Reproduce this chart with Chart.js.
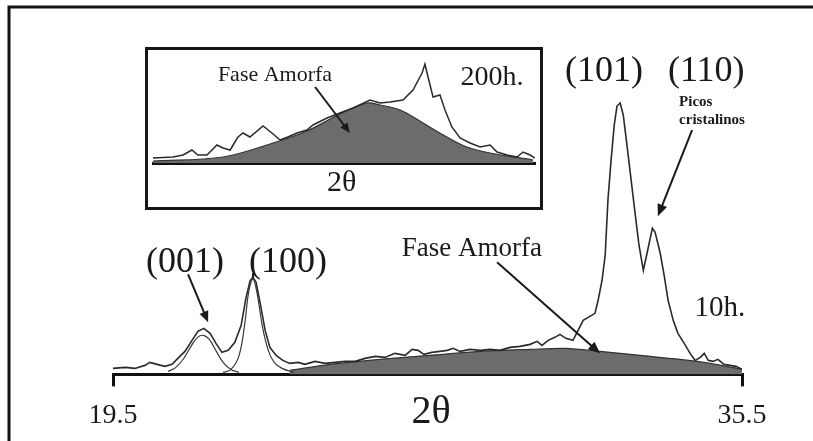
<!DOCTYPE html>
<html>
<head>
<meta charset="utf-8">
<script src="https://cdn.jsdelivr.net/npm/chart.js@4/dist/chart.umd.min.js"></script>
<style>
  body { margin: 0; background: #fff; overflow: hidden; }
  #wrap { position: relative; width: 813px; height: 441px; }
  #inset {
    position: absolute; left: 145px; top: 47px;
    width: 392px; height: 157px;
    border: 3px solid #161616; background: #fff;
  }
</style>
</head>
<body>
<div id="wrap">
  <canvas id="mainChart" width="813" height="441"></canvas>
  <div id="inset"><canvas id="insetChart" width="392" height="157"></canvas></div>
</div>
<script>
// 10h. pattern (2theta, a.u.)
const mainTheta = [19.5, 19.81, 20.06, 20.31, 20.44, 20.62, 20.82, 21.0, 21.15, 21.33,
    21.51, 21.66, 21.81, 21.97, 22.12, 22.27, 22.43, 22.6, 22.76, 22.88,
    22.99, 23.06, 23.14, 23.24, 23.37, 23.49, 23.65, 23.82, 24.0, 24.21,
    24.38, 24.64, 24.89, 25.15, 25.4, 25.66, 25.91, 26.17, 26.42, 26.67,
    26.93, 27.11, 27.26, 27.41, 27.61, 27.82, 28.0, 28.15, 28.33, 28.58,
    28.84, 29.09, 29.34, 29.6, 29.85, 30.11, 30.29, 30.41, 30.57, 30.74,
    30.87, 31.02, 31.2, 31.33, 31.46, 31.63, 31.76, 31.84, 31.94, 32.02,
    32.09, 32.17, 32.25, 32.32, 32.4, 32.48, 32.58, 32.68, 32.78, 32.88,
    32.99, 33.09, 33.22, 33.29, 33.42, 33.52, 33.62, 33.75, 33.87, 34.03,
    34.18, 34.31, 34.44, 34.54, 34.64, 34.76, 34.89, 35.04, 35.2, 35.35, 35.5];
const mainCounts = [6, 7, 6, 9, 12, 10, 8, 10, 16, 23,
    34, 43, 46, 41, 31, 22, 24, 32, 49, 76,
    94, 97, 92, 72, 44, 27, 19, 14, 11, 12,
    10, 13, 11, 12, 13, 13, 16, 18, 17, 21,
    19, 25, 24, 20, 22, 23, 24, 26, 23, 25,
    24, 25, 24, 27, 28, 30, 33, 29, 34, 37,
    40, 36, 34, 44, 54, 58, 61, 74, 94, 119,
    174, 214, 249, 268, 271, 259, 227, 194, 161, 129,
    104, 122, 146, 142, 121, 99, 74, 54, 41, 31,
    21, 14, 17, 21, 14, 13, 15, 10, 9, 8, 5];

// amorphous halo under the 10h. pattern
const amorphTheta = [24.0, 25.02, 26.29, 27.56, 28.84, 30.11, 31.0, 31.89, 32.91, 33.92, 34.69, 35.5];
const amorphCounts = [4, 10, 15, 19, 23, 25, 26, 23, 19, 15, 11, 5];

// fitted components of (001) and (100)
const fit001Theta = [20.9, 21.1, 21.3, 21.5, 21.65, 21.8, 21.95, 22.1, 22.3, 22.5, 22.7];
const fit001Counts = [3, 7, 16, 29, 37, 39, 35, 25, 12, 5, 2];
const fit100Theta = [22.3, 22.5, 22.7, 22.85, 22.95, 23.06, 23.17, 23.3, 23.45, 23.6, 23.8, 24.1];
const fit100Counts = [2, 5, 18, 50, 82, 95, 80, 48, 24, 12, 6, 2];

// 200h. pattern (inset)
const insetTheta = [19.5, 20.34, 20.76, 21.13, 21.38, 21.76, 22.18, 22.43, 22.73, 23.06,
    23.27, 23.56, 24.11, 24.48, 24.82, 25.15, 25.53, 25.95, 26.2, 26.79,
    27.33, 27.88, 28.59, 29.01, 29.43, 29.97, 30.39, 30.77, 30.89, 31.02,
    31.23, 31.52, 31.73, 32.02, 32.36, 32.78, 33.2, 33.62, 33.91, 34.33,
    34.75, 35.0, 35.29, 35.5];
const insetCounts = [5, 6, 8, 13, 8, 8, 18, 15, 13, 26,
    30, 26, 37, 30, 23, 26, 30, 33, 38, 45,
    50, 55, 63, 60, 61, 63, 73, 90, 99, 86,
    66, 68, 53, 36, 25, 20, 16, 18, 11, 8,
    6, 11, 8, 5];
const insetAmorphTheta = [19.5, 22.43, 24.53, 25.95, 27.33, 28.46, 29.01, 29.85, 30.81, 31.81, 32.65, 33.62, 35.42];
const insetAmorphCounts = [2, 6, 20, 32, 49, 60, 58, 53, 40, 26, 16, 10, 3];

const xTickValues = [19.5, 35.5];
const xTickLabels = ['19.5', '35.5'];

const serif = '"Liberation Serif", "Times New Roman", serif';
const ink = '#1a1a1a';
Chart.defaults.font.family = serif;
Chart.defaults.color = ink;

function pts(xs, ys) {
    return xs.map((x, i) => ({ x: x, y: ys[i] }));
}

function label(chart, text, x, y, size, opts) {
    const ctx = chart.ctx;
    const o = opts || {};
    ctx.save();
    ctx.font = (o.bold ? 'bold ' : '') + size + 'px ' + serif;
    ctx.fillStyle = ink;
    ctx.textAlign = o.align || 'center';
    ctx.textBaseline = 'middle';
    ctx.fillText(text, chart.scales.x.getPixelForValue(x), chart.scales.y.getPixelForValue(y));
    ctx.restore();
}

function arrow(chart, x1, y1, x2, y2, head) {
    const ctx = chart.ctx;
    const sx = chart.scales.x, sy = chart.scales.y;
    const ax = sx.getPixelForValue(x1), ay = sy.getPixelForValue(y1);
    const bx = sx.getPixelForValue(x2), by = sy.getPixelForValue(y2);
    const ang = Math.atan2(by - ay, bx - ax);
    ctx.save();
    ctx.strokeStyle = ink;
    ctx.fillStyle = ink;
    ctx.lineWidth = 2;
    ctx.beginPath();
    ctx.moveTo(ax, ay);
    ctx.lineTo(bx - Math.cos(ang) * head * 0.8, by - Math.sin(ang) * head * 0.8);
    ctx.stroke();
    if (head > 0) {
        ctx.beginPath();
        ctx.moveTo(bx, by);
        ctx.lineTo(bx - head * Math.cos(ang - 0.4), by - head * Math.sin(ang - 0.4));
        ctx.lineTo(bx - head * Math.cos(ang + 0.4), by - head * Math.sin(ang + 0.4));
        ctx.closePath();
        ctx.fill();
    }
    ctx.restore();
}

const frame = {
    id: 'frame',
    beforeDraw(chart) {
        const ctx = chart.ctx;
        ctx.save();
        ctx.strokeStyle = '#111';
        ctx.lineWidth = 3;
        ctx.beginPath();
        ctx.moveTo(813, 7);
        ctx.lineTo(9, 7);
        ctx.lineTo(9, 441);
        ctx.stroke();
        ctx.restore();
    }
};

const mainNotes = {
    id: 'mainNotes',
    afterDraw(chart) {
        label(chart, '(001)', 21.33, 112, 36);
        label(chart, '(100)', 23.95, 112, 36);
        label(chart, '(101)', 31.99, 302, 36);
        label(chart, '(110)', 34.59, 302, 36);
        label(chart, 'Picos', 33.9, 272, 15, { bold: true, align: 'left' });
        label(chart, 'cristalinos', 33.9, 254, 15, { bold: true, align: 'left' });
        label(chart, '10h.', 34.94, 66, 29);
        label(chart, 'Fase Amorfa', 28.63, 125, 27);
        label(chart, '2θ', 27.59, -38, 40);
        arrow(chart, 21.41, 100, 21.92, 52, 12);
        arrow(chart, 23.06, 101, 23.06, 96, 0);
        arrow(chart, 34.23, 244, 33.36, 158, 13);
        arrow(chart, 29.27, 112, 31.89, 21, 13);
    }
};

new Chart(document.getElementById('mainChart'), {
    type: 'line',
    data: {
        datasets: [{
            label: '10h.',
            data: pts(mainTheta, mainCounts),
            borderColor: '#2a2a2a',
            borderWidth: 1.6,
            pointRadius: 0,
            tension: 0,
            fill: false,
            order: 0
        }, {
            label: 'Fase Amorfa',
            data: pts(amorphTheta, amorphCounts),
            borderColor: '#333',
            borderWidth: 1.2,
            backgroundColor: '#6c6c6c',
            pointRadius: 0,
            tension: 0.3,
            fill: 'origin',
            order: 3
        }, {
            label: '(001) ajuste',
            data: pts(fit001Theta, fit001Counts),
            borderColor: '#3a3a3a',
            borderWidth: 1.2,
            pointRadius: 0,
            tension: 0.4,
            fill: false,
            order: 1
        }, {
            label: '(100) ajuste',
            data: pts(fit100Theta, fit100Counts),
            borderColor: '#3a3a3a',
            borderWidth: 1.2,
            pointRadius: 0,
            tension: 0.4,
            fill: false,
            order: 2
        }]
    },
    options: {
        responsive: false,
        animation: false,
        layout: { padding: { left: 113, right: 71, top: 74, bottom: -3 } },
        plugins: { legend: { display: false }, tooltip: { enabled: false } },
        scales: {
            x: {
                type: 'linear',
                min: 19.5,
                max: 35.5,
                afterBuildTicks: (scale) => { scale.ticks = xTickValues.map(v => ({ value: v })); },
                ticks: {
                    autoSkip: false,
                    maxRotation: 0,
                    padding: 12,
                    font: { size: 28 },
                    color: ink,
                    callback: (v) => xTickLabels[xTickValues.indexOf(v)]
                },
                grid: { drawOnChartArea: false, tickLength: 12, lineWidth: 3, color: '#111' },
                border: { display: true, width: 3, color: '#111' }
            },
            y: { display: false, min: 0, max: 300 }
        }
    },
    plugins: [frame, mainNotes]
});

const insetNotes = {
    id: 'insetNotes',
    afterDraw(chart) {
        label(chart, 'Fase Amorfa', 24.61, 88, 22);
        label(chart, '200h.', 33.7, 85, 28);
        label(chart, '2θ', 27.4, -20, 30);
        arrow(chart, 26.29, 76, 27.75, 30, 11);
    }
};

new Chart(document.getElementById('insetChart'), {
    type: 'line',
    data: {
        datasets: [{
            label: '200h.',
            data: pts(insetTheta, insetCounts),
            borderColor: '#2a2a2a',
            borderWidth: 1.5,
            pointRadius: 0,
            tension: 0,
            fill: false,
            order: 0
        }, {
            label: 'Fase Amorfa',
            data: pts(insetAmorphTheta, insetAmorphCounts),
            borderColor: '#333',
            borderWidth: 1.2,
            backgroundColor: '#6c6c6c',
            pointRadius: 0,
            tension: 0.35,
            fill: 'origin',
            order: 1
        }]
    },
    options: {
        responsive: false,
        animation: false,
        layout: { padding: { left: 5, right: 5, top: 8, bottom: 36 } },
        plugins: { legend: { display: false }, tooltip: { enabled: false } },
        scales: {
            x: {
                type: 'linear',
                min: 19.5,
                max: 35.5,
                ticks: { display: false },
                grid: { display: false },
                border: { display: true, width: 3, color: '#111' }
            },
            y: { display: false, min: 0, max: 105 }
        }
    },
    plugins: [insetNotes]
});
</script>
</body>
</html>
